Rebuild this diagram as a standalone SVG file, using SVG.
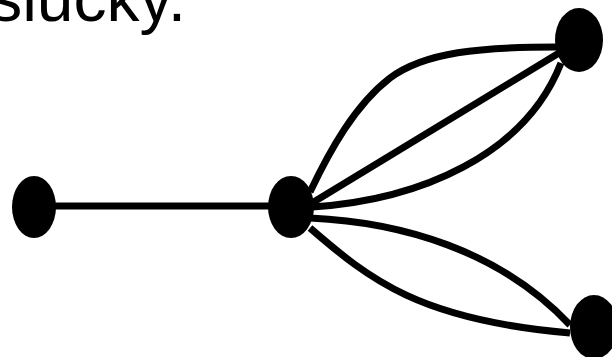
<svg xmlns="http://www.w3.org/2000/svg" width="612" height="357" viewBox="0 0 612 357">
<style>
.edge{fill:none;stroke:#000;stroke-width:7;stroke-linecap:butt}
.node{fill:#000}
.t{font-family:"Liberation Sans",Arial,sans-serif;font-size:66px;fill:#000}
</style>
<rect width="612" height="357" fill="#fff"/>
<text class="t" x="186" y="21" text-anchor="end">slucky.</text>
<g id="connectors">
<path class="edge" d="M 50,206 L 275,206"/>
<path class="edge" d="M 310,192 C 330,150 355,105 390,78 C 425,52 480,47 557,47"/>
<path class="edge" d="M 312,203 L 559,53"/>
<path class="edge" d="M 312,207 C 420,200 525,155 561,63"/>
<path class="edge" d="M 310,218 C 400,222 500,250 570,325"/>
<path class="edge" d="M 310,228 C 370,280 420,320 570,333"/>
</g>
<g id="n1"><ellipse class="node" cx="34" cy="207" rx="22" ry="31"/></g>
<g id="n2"><ellipse class="node" cx="291" cy="207" rx="23" ry="31"/></g>
<g id="n3"><ellipse class="node" cx="579" cy="40" rx="24" ry="32"/></g>
<g id="n4"><ellipse class="node" cx="594" cy="327" rx="24" ry="32"/></g>
</svg>
